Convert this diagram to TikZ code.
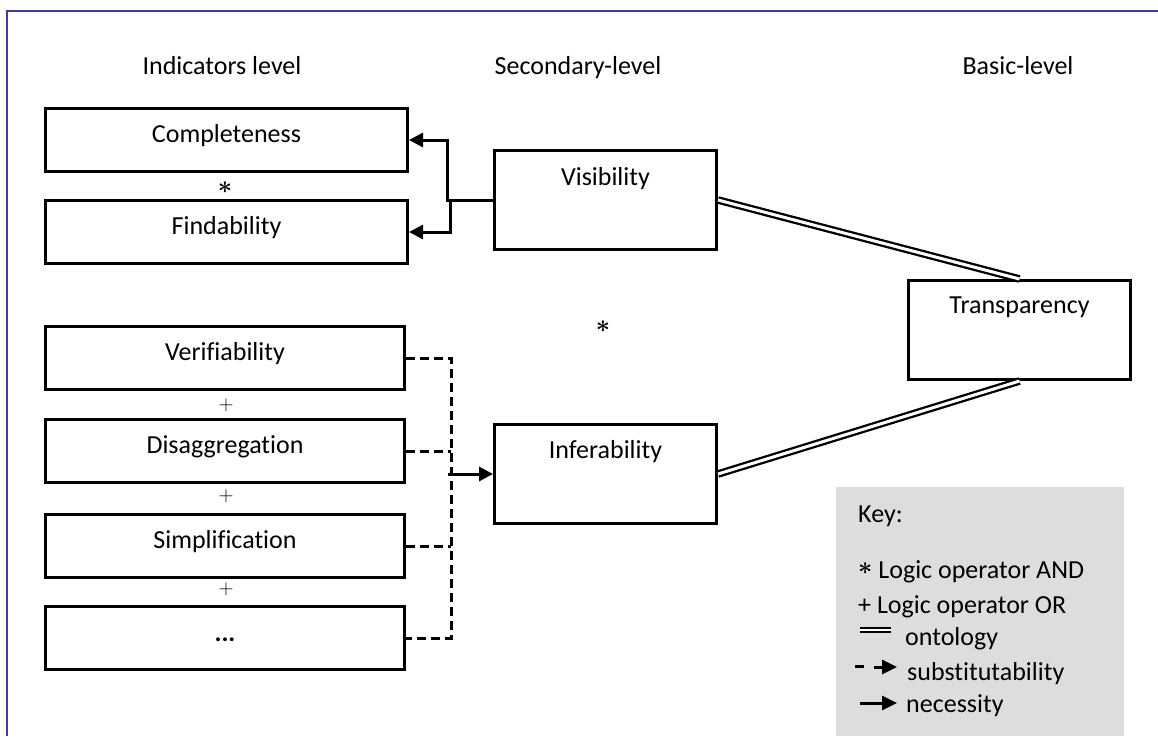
\documentclass[tikz,border=0pt]{standalone}
\usepackage{fontspec}
\setmainfont[Ligatures=NoCommon]{Carlito}
\usetikzlibrary{arrows.meta}
\definecolor{framecol}{RGB}{60,64,150}
\definecolor{keygray}{RGB}{220,221,221}
\tikzset{
  box/.style={draw=black, line width=3pt, fill=white, inner sep=0pt, anchor=north west},
  lbl/.style={anchor=base, inner sep=0pt, font=\fontsize{26}{30}\selectfont},
  keytxt/.style={anchor=base west, inner sep=0pt, font=\fontsize{26}{30}\selectfont},
  op/.style={inner sep=0pt, font=\fontsize{22}{24}\selectfont},
  star/.style={inner sep=0pt, font=\fontsize{42}{44}\selectfont\boldmath},
  nec/.style={line width=3pt, -{Triangle[length=14pt,width=14pt]}},
  sub/.style={line width=3pt, dash pattern=on 9pt off 5pt},
  onto/.style={double=white, draw=black, line width=2.3pt, double distance=3pt}
}
\begin{document}
\begin{tikzpicture}[x=1pt,y=-1pt]
\useasboundingbox (0,0) rectangle (1158,736);
% frame
\draw[framecol, line width=1.3pt] (7,736) -- (7,11) -- (1158,11);
% headers
\node[lbl] (h1) at (222,74) {Indicators level};
\node[lbl] (h2) at (578,74) {Secondary-level};
\node[lbl] (h3) at (1018,74) {Basic-level};
% indicator boxes
\node[box, minimum width=362pt, minimum height=63pt] (comp) at (44,107) {};
\node[lbl] (compt) at ([yshift=-35pt]comp.north) {Completeness};
\node[box, minimum width=362pt, minimum height=63pt] (find) at (44,199) {};
\node[lbl] (findt) at ([yshift=-35pt]find.north) {Findability};
\node[box, minimum width=359pt, minimum height=63pt] (ver) at (44,325) {};
\node[lbl] (vert) at ([yshift=-35pt]ver.north) {Verifiability};
\node[box, minimum width=359pt, minimum height=63pt] (dis) at (44,418) {};
\node[lbl] (dist) at ([yshift=-35pt]dis.north) {Disaggregation};
\node[box, minimum width=359pt, minimum height=63pt] (sim) at (44,513) {};
\node[lbl] (simt) at ([yshift=-35pt]sim.north) {Simplification};
\node[box, minimum width=359pt, minimum height=63pt] (dots) at (44,605) {};
\node[lbl] (dotst) at ([yshift=-36pt]dots.north) {\textbf{...}};
% operators
\node[star] (and1) at (225,188) {$\ast$};
\node[star] (and2) at (603,327) {$\ast$};
\node[op] (or1) at (226,405) {$+$};
\node[op] (or2) at (226,496) {$+$};
\node[op] (or3) at (226,589) {$+$};
% secondary and basic
\node[box, minimum width=222pt, minimum height=99pt] (vis) at (493,149) {};
\node[lbl] (vist) at ([yshift=-36pt]vis.north) {Visibility};
\node[box, minimum width=222pt, minimum height=99pt] (inf) at (493,423) {};
\node[lbl] (inft) at ([yshift=-35pt]inf.north) {Inferability};
\node[box, minimum width=222pt, minimum height=99pt] (trans) at (907,279) {};
\node[lbl] (transt) at ([yshift=-34pt]trans.north) {Transparency};
% necessity connectors
\draw[nec] (vis.west) -| ([xshift=38pt]comp.east) -- (comp.east);
\draw[nec] ([xshift=-43pt]vis.west) |- (find.east);
% substitutability connectors
\draw[sub] (ver.east) -- ++(45,0) |- (dots.east);
\draw[sub] (dis.east) -- ++(45,0);
\draw[sub] (sim.east) -- ++(45,0);
\draw[nec] ([xshift=-45pt]inf.west) -- (inf.west);
% ontology
\draw[onto] (vis.east) -- (trans.north);
\draw[onto] (inf.east) -- (trans.south);
% key
\fill[keygray] (836,487) rectangle (1124,736);
\node[keytxt] (k0) at (858,522) {Key:};
\node[keytxt] (k1) at (858,578) {{\fontsize{40}{30}\selectfont\boldmath\raisebox{4pt}{$\ast$}} Logic operator AND};
\node[keytxt] (k2) at (858,613) {+ Logic operator OR};
\node[keytxt] (k3) at (905,645) {ontology};
\node[keytxt] (k4) at (907,680) {substitutability};
\node[keytxt] (k5) at (906,712) {necessity};
\coordinate (o1) at (860,630);
\coordinate (o2) at (891,630);
\draw[onto, line width=2.3pt, double distance=2pt] (o1) -- (o2);
\coordinate (s1) at (855,666);
\coordinate (s2) at (864,666);
\coordinate (s3) at (874,667);
\coordinate (s4) at (897,667);
\draw[line width=3pt] (s1) -- (s2);
\draw[line width=3pt, -{Triangle[length=15pt,width=14pt]}] (s3) -- (s4);
\coordinate (n1) at (860,703);
\coordinate (n2) at (897,703);
\draw[line width=3pt, -{Triangle[length=15pt,width=14pt]}] (n1) -- (n2);
\end{tikzpicture}
\end{document}
